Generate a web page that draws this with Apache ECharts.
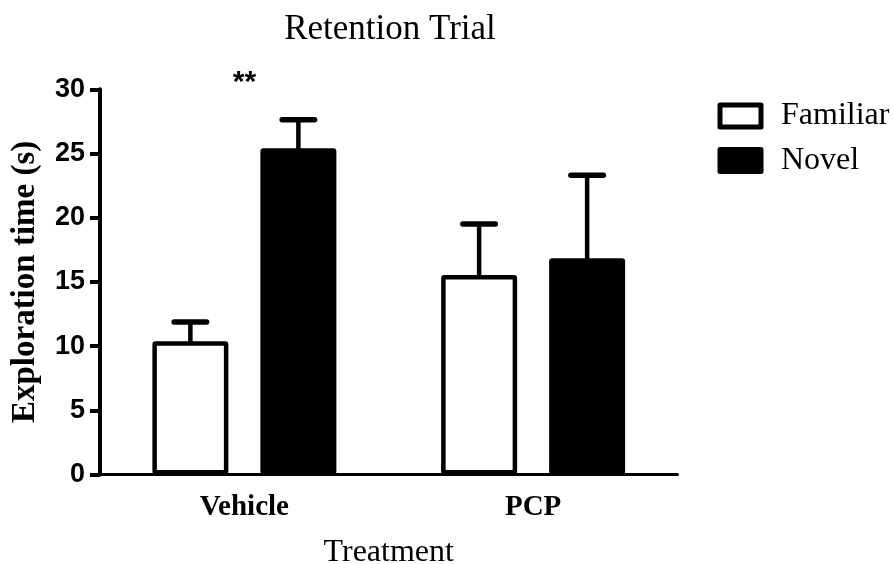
<!DOCTYPE html>
<html>
<head>
<meta charset="utf-8">
<script src="https://cdn.jsdelivr.net/npm/echarts@6/dist/echarts.min.js"></script>
<style>
  html, body { margin: 0; padding: 0; background: #fff; }
  #chart { width: 893px; height: 564px; }
</style>
</head>
<body>
<div id="chart"></div>
<script>
// ---- data ----
const categories = ['Vehicle', 'PCP'];
const seriesNames = ['Familiar', 'Novel'];
const familiarMean = [10.37, 15.54];
const familiarSEM = [1.51, 3.97];
const novelMean = [25.40, 16.84];
const novelSEM = [2.22, 6.46];
const sigLabels = ['**', ''];
const yTicks = { min: 0, max: 30, interval: 5 };

// ---- style constants ----
const SERIF = 'Liberation Serif';
const SANS = 'Liberation Sans';
const BAR_W = 76;
const BAR_GAP_PX = 32;
const CAP_LEN = 32.5;

function errorRender(sign) {
  return function (params, api) {
    const ci = api.value(0), mean = api.value(1), sem = api.value(2);
    const base = api.coord([ci, mean]);
    const top = api.coord([ci, mean + sem]);
    const x = base[0] + sign * (BAR_W + BAR_GAP_PX) / 2;
    return {
      type: 'group',
      children: [
        { type: 'line', shape: { x1: x, y1: base[1] + 2, x2: x, y2: top[1] },
          style: { stroke: '#000', lineWidth: 4.5 } },
        { type: 'line', shape: { x1: x - CAP_LEN / 2, y1: top[1], x2: x + CAP_LEN / 2, y2: top[1] },
          style: { stroke: '#000', lineWidth: 5.5, lineCap: 'round' } }
      ]
    };
  };
}

const chart = echarts.init(document.getElementById('chart'), null, { renderer: 'canvas' });
chart.setOption({
  animation: false,
  backgroundColor: '#fff',
  title: {
    text: 'Retention Trial',
    left: 390, top: 12, padding: 0, textAlign: 'center',
    textStyle: { fontFamily: SERIF, fontSize: 35, fontWeight: 'normal', color: '#000' }
  },
  legend: {
    data: seriesNames,
    orient: 'vertical',
    left: 717.5, top: 100, padding: 0,
    itemWidth: 41, itemHeight: 22, itemGap: 12.4,
    icon: 'rect',
    itemStyle: { borderWidth: 5, borderColor: '#000', borderJoin: 'round' },
    textStyle: { fontFamily: SERIF, fontSize: 32, color: '#000', padding: [0, 0, 0, 15] }
  },
  grid: { left: 100, right: 215.5, top: 89.3, bottom: 89.5, containLabel: false, outerBoundsMode: 'none' },
  xAxis: {
    type: 'category',
    data: categories,
    boundaryGap: true,
    name: 'Treatment',
    nameLocation: 'middle',
    nameGap: 62,
    nameTextStyle: { fontFamily: SERIF, fontSize: 32, color: '#000' },
    axisLine: { lineStyle: { color: '#000', width: 3 } },
    axisTick: { alignWithLabel: true, length: 10, lineStyle: { color: '#000', width: 3 } },
    axisLabel: { margin: 19, fontFamily: SERIF, fontSize: 29, fontWeight: 'bold', color: '#000' },
    splitLine: { show: false }
  },
  yAxis: {
    type: 'value',
    min: yTicks.min, max: yTicks.max, interval: yTicks.interval,
    name: 'Exploration time (s)',
    nameLocation: 'middle',
    nameRotate: 90,
    nameGap: 58,
    nameTextStyle: { fontFamily: SERIF, fontSize: 33, fontWeight: 'bold', color: '#000' },
    axisLine: { show: true, lineStyle: { color: '#000', width: 4 } },
    axisTick: { show: true, length: 10, lineStyle: { color: '#000', width: 4 } },
    axisLabel: { margin: 15, fontFamily: SANS, fontSize: 27, fontWeight: 'bold', color: '#000' },
    splitLine: { show: false }
  },
  series: [
    {
      name: 'Familiar', type: 'bar', data: familiarMean,
      barWidth: BAR_W, barGap: (BAR_GAP_PX / BAR_W * 100) + '%',
      itemStyle: { color: '#fff', borderColor: '#000', borderWidth: 4.5, borderRadius: 1 },
      z: 2
    },
    {
      name: 'Novel', type: 'bar', data: novelMean,
      barWidth: BAR_W,
      itemStyle: { color: '#000', borderColor: '#000', borderWidth: 4.5, borderRadius: 1 },
      z: 2
    },
    {
      type: 'custom', name: 'FamiliarErr', renderItem: errorRender(-1),
      encode: { x: 0, y: 1 }, z: 3,
      data: familiarMean.map((m, i) => [i, m, familiarSEM[i]])
    },
    {
      type: 'custom', name: 'NovelErr', renderItem: errorRender(1),
      encode: { x: 0, y: 1 }, z: 3,
      data: novelMean.map((m, i) => [i, m, novelSEM[i]])
    },
    {
      type: 'custom', name: 'Significance', z: 4,
      encode: { x: 0, y: 1 },
      data: sigLabels.map((s, i) => [i, yTicks.max]),
      renderItem: function (params, api) {
        const p = api.coord([api.value(0), api.value(1)]);
        return {
          type: 'text',
          style: {
            text: sigLabels[params.dataIndex], x: p[0], y: p[1] - 7,
            align: 'center', verticalAlign: 'middle',
            font: 'bold 30px "' + SANS + '"', fill: '#000'
          }
        };
      }
    }
  ]
});
</script>
</body>
</html>
